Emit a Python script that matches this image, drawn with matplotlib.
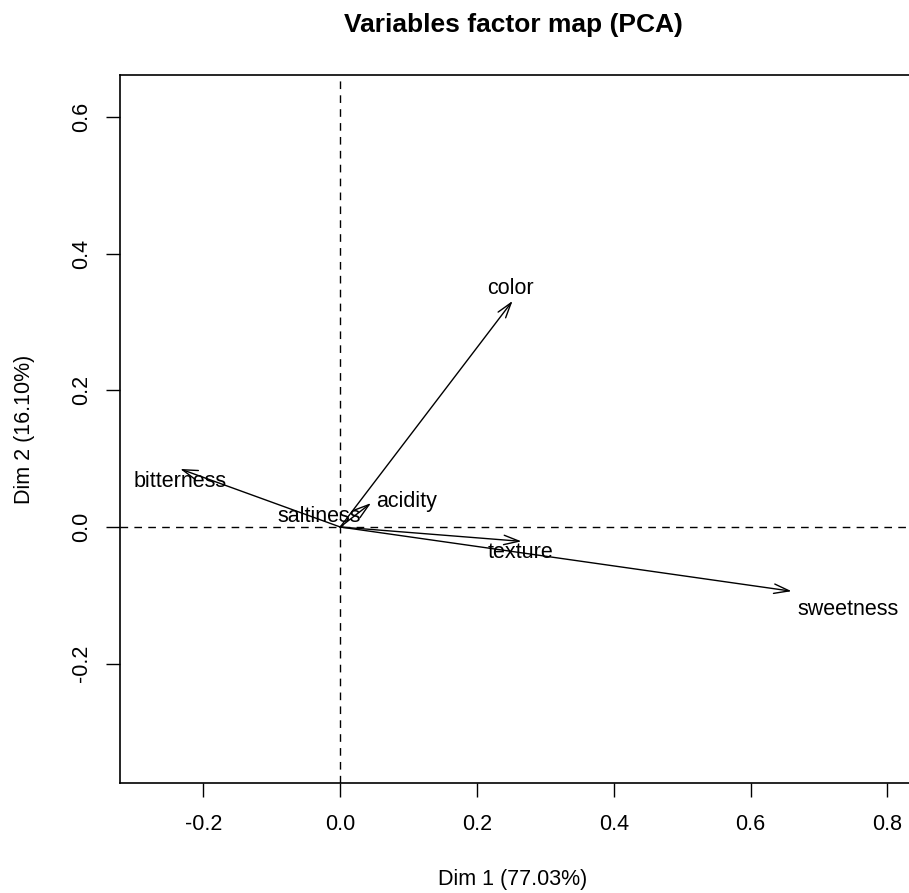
import matplotlib
matplotlib.use("Agg")
import matplotlib.pyplot as plt

# ---- data (PCA variable coordinates) ----
variables = ["bitterness", "saltiness", "acidity", "color", "texture", "sweetness"]
dim1 = [-0.234, 0.004, 0.045, 0.252, 0.265, 0.660]
dim2 = [0.085, 0.002, 0.035, 0.331, -0.021, -0.094]
# label anchor positions (data units)
label_x = [-0.234, -0.031, 0.097, 0.249, 0.264, 0.742]
label_y = [0.066, 0.015, 0.037, 0.349, -0.038, -0.1215]
xticks = [-0.2, 0.0, 0.2, 0.4, 0.6, 0.8]
yticks = [-0.2, 0.0, 0.2, 0.4, 0.6]
title = "Variables factor map (PCA)"
xlabel = "Dim 1 (77.03%)"
ylabel = "Dim 2 (16.10%)"

plt.rcParams['font.family'] = ['Liberation Sans', 'DejaVu Sans']

W, H = 909, 893
fig = plt.figure(figsize=(W / 100, H / 100), dpi=100)
ax = fig.add_axes([120 / W, (H - 783) / H, 791 / W, 708.5 / H])
ax.set_xlim(-0.322, 0.8346)
ax.set_ylim(-0.3748, 0.6625)

ax.axhline(0, color="black", lw=1.0, ls=(0, (5.5, 4.5)))
ax.axvline(0, color="black", lw=1.0, ls=(0, (5.5, 4.5)))

for x, y in zip(dim1, dim2):
    # very short arrows: R skips the head, draw just the segment
    style = "->,head_length=1.1,head_width=0.34" if (x * x + y * y) ** 0.5 > 0.01 else "-"
    ax.annotate("", xy=(x, y), xytext=(0, 0),
                arrowprops=dict(arrowstyle=style,
                                color="black", lw=1.0, shrinkA=0, shrinkB=0,
                                mutation_scale=10))

for name, lx, ly in zip(variables, label_x, label_y):
    ax.text(lx, ly, name, ha="center", va="center", fontsize=15.5)

ax.set_xticks(xticks)
ax.set_yticks(yticks)
ax.set_xticklabels([f"{t:.1f}" for t in xticks], fontsize=15.5)
ax.set_yticklabels([f"{t:.1f}" for t in yticks], fontsize=15.5, rotation=90, va="center")
ax.tick_params(direction="out", length=10, width=1.0, pad=12)
ax.tick_params(axis="y", pad=10)
for s in ax.spines.values():
    s.set_linewidth(1.2)

fig.text(513 / W, 1 - 25 / H, title, ha="center", va="center", fontsize=19, fontweight="bold")
fig.text(513 / W, 1 - 880 / H, xlabel, ha="center", va="center", fontsize=15.5)
fig.text(25 / W, 1 - 429 / H, ylabel, ha="center", va="center", fontsize=15.5, rotation=90)

fig.savefig("out.png", dpi=100)
